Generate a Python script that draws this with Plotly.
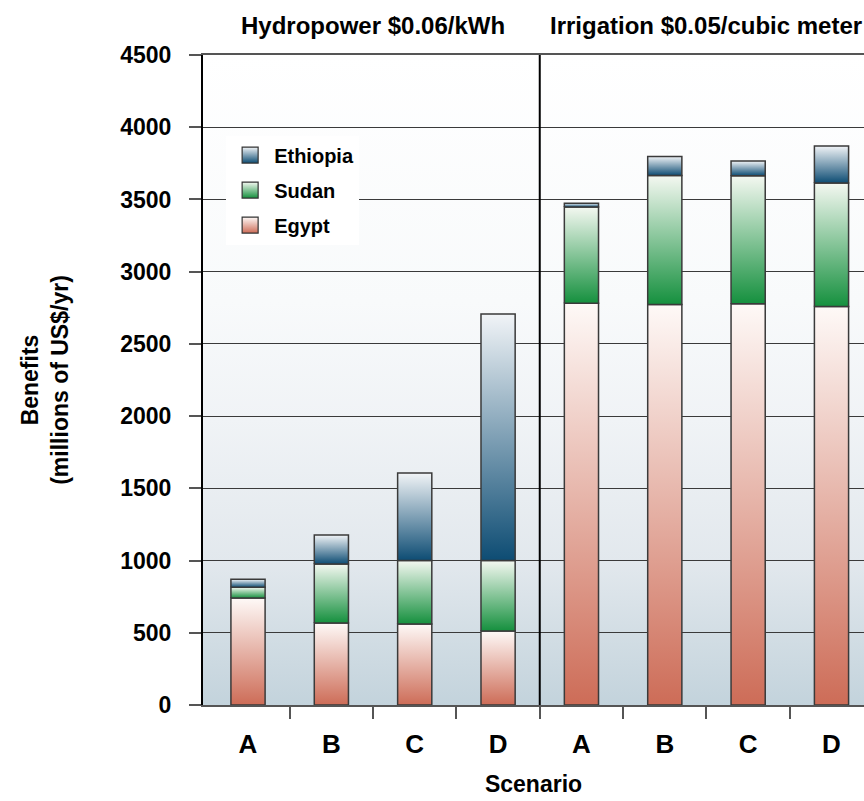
import base64
import plotly.graph_objects as go

# ---------------- data ----------------
scenarios = ["A", "B", "C", "D", "A", "B", "C", "D"]
group_titles = ["Hydropower $0.06/kWh", "Irrigation $0.05/cubic meter"]
group_sizes = [4, 4]
egypt = [740, 568, 561, 512, 2781, 2772, 2778, 2758]
sudan = [75, 408, 439, 488, 667, 894, 886, 856]
ethiopia = [55, 201, 606, 1707, 25, 132, 102, 256]
y_ticks = [0, 500, 1000, 1500, 2000, 2500, 3000, 3500, 4000, 4500]

# ---------------- styles ----------------
FONT = "Liberation Sans, Arial, sans-serif"
countries = [
    # name, values, bottom colour, top colour
    ("Egypt", egypt, "#cd6c57", "#fef9f7"),
    ("Sudan", sudan, "#15903e", "#f4f8f1"),
    ("Ethiopia", ethiopia, "#0d4c73", "#f1f4f7"),
]
bar_w = 0.41

fig = go.Figure()

base = [0] * len(scenarios)
for name, vals, c_bot, c_top in countries:
    for i, v in enumerate(vals):
        y0, y1 = base[i], base[i] + v
        x0, x1 = i - bar_w / 2, i + bar_w / 2
        fig.add_trace(go.Scatter(
            x=[x0, x1, x1, x0, x0], y=[y0, y0, y1, y1, y0],
            mode="lines", fill="toself",
            fillgradient=dict(type="vertical", colorscale=[[0, c_bot], [1, c_top]],
                              start=y0, stop=y1),
            line=dict(color="#3a3a3a", width=1.5),
            showlegend=False, hoverinfo="skip"))
        base[i] = y1

# legend entries (Ethiopia on top)
for rank, (name, vals, c_bot, c_top) in enumerate(reversed(countries)):
    fig.add_trace(go.Scatter(
        x=[None], y=[None], mode="markers", name=name,
        legendgroup=name, legendrank=rank,
        marker=dict(symbol="square", size=22, color=c_top,
                    gradient=dict(type="vertical", color=c_bot),
                    line=dict(color="#333", width=1.2))))

# background gradient
svg = ('<svg xmlns="http://www.w3.org/2000/svg" width="100" height="100" '
       'viewBox="0 0 100 100" preserveAspectRatio="none"><defs>'
       '<linearGradient id="g" x1="0" y1="0" x2="0" y2="1">'
       '<stop offset="0" stop-color="#ffffff"/>'
       '<stop offset="0.38" stop-color="#f8fafb"/>'
       '<stop offset="0.56" stop-color="#f0f3f6"/>'
       '<stop offset="0.78" stop-color="#e2e8ed"/>'
       '<stop offset="1" stop-color="#c3d3dc"/>'
       '</linearGradient></defs><rect width="100" height="100" fill="url(#g)"/></svg>')
src = "data:image/svg+xml;base64," + base64.b64encode(svg.encode()).decode()
fig.add_layout_image(dict(source=src, xref="paper", yref="paper", x=0, y=1,
                          sizex=1, sizey=1, sizing="stretch", layer="below",
                          xanchor="left", yanchor="top"))

# group divider and titles
start = 0
for k, (title, n) in enumerate(zip(group_titles, group_sizes)):
    fig.add_annotation(x=start + (n - 1) / 2, y=1, xref="x", yref="paper",
                       text=title, showarrow=False, yanchor="middle", yshift=30,
                       font=dict(family=FONT, size=24, color="black", weight="bold"))
    if k > 0:
        fig.add_shape(type="line", x0=start - 0.5, x1=start - 0.5, y0=0, y1=1,
                      xref="x", yref="paper", line=dict(color="black", width=2),
                      layer="above")
    start += n

fig.update_layout(
    width=864, height=801,
    margin=dict(l=203, r=0, t=55, b=96),
    paper_bgcolor="white", plot_bgcolor="rgba(0,0,0,0)",
    font=dict(family=FONT, color="black"),
    showlegend=True,
    legend=dict(x=0.035, y=0.876, xanchor="left", yanchor="top",
                bgcolor="white", borderwidth=0, itemsizing="trace",
                tracegroupgap=6, itemwidth=38,
                font=dict(family=FONT, size=20, color="black", weight="bold")),
    xaxis=dict(range=[-0.54, 7.39], tickmode="array",
               tickvals=list(range(len(scenarios))), ticktext=scenarios,
               ticks="", showgrid=False, zeroline=False,
               showline=True, linecolor="#555", linewidth=2, mirror=True,
               tickfont=dict(family=FONT, size=26, color="black", weight="bold"),
               ticklabelstandoff=15,
               minor=dict(tickmode="array",
                          tickvals=[i + 0.5 for i in range(len(scenarios) - 1)],
                          ticks="outside", ticklen=12, tickcolor="#555",
                          tickwidth=1.5, showgrid=False),
               title=dict(text="Scenario", standoff=18,
                          font=dict(family=FONT, size=23, color="black", weight="bold"))),
    yaxis=dict(range=[0, 4500], tickmode="array", tickvals=y_ticks,
               ticks="outside", ticklen=12, tickcolor="#555", tickwidth=1.5,
               showgrid=True, gridcolor="#3a3a3a", gridwidth=1.3,
               zeroline=False, showline=True, linecolor="black", linewidth=2,
               tickfont=dict(family=FONT, size=23, color="black", weight="bold"),
               ticklabelstandoff=13,
               title=dict(text="Benefits<br>(millions of US$/yr)", standoff=45,
                          font=dict(family=FONT, size=23, color="black", weight="bold"))),
)

fig.write_html("out.html")
